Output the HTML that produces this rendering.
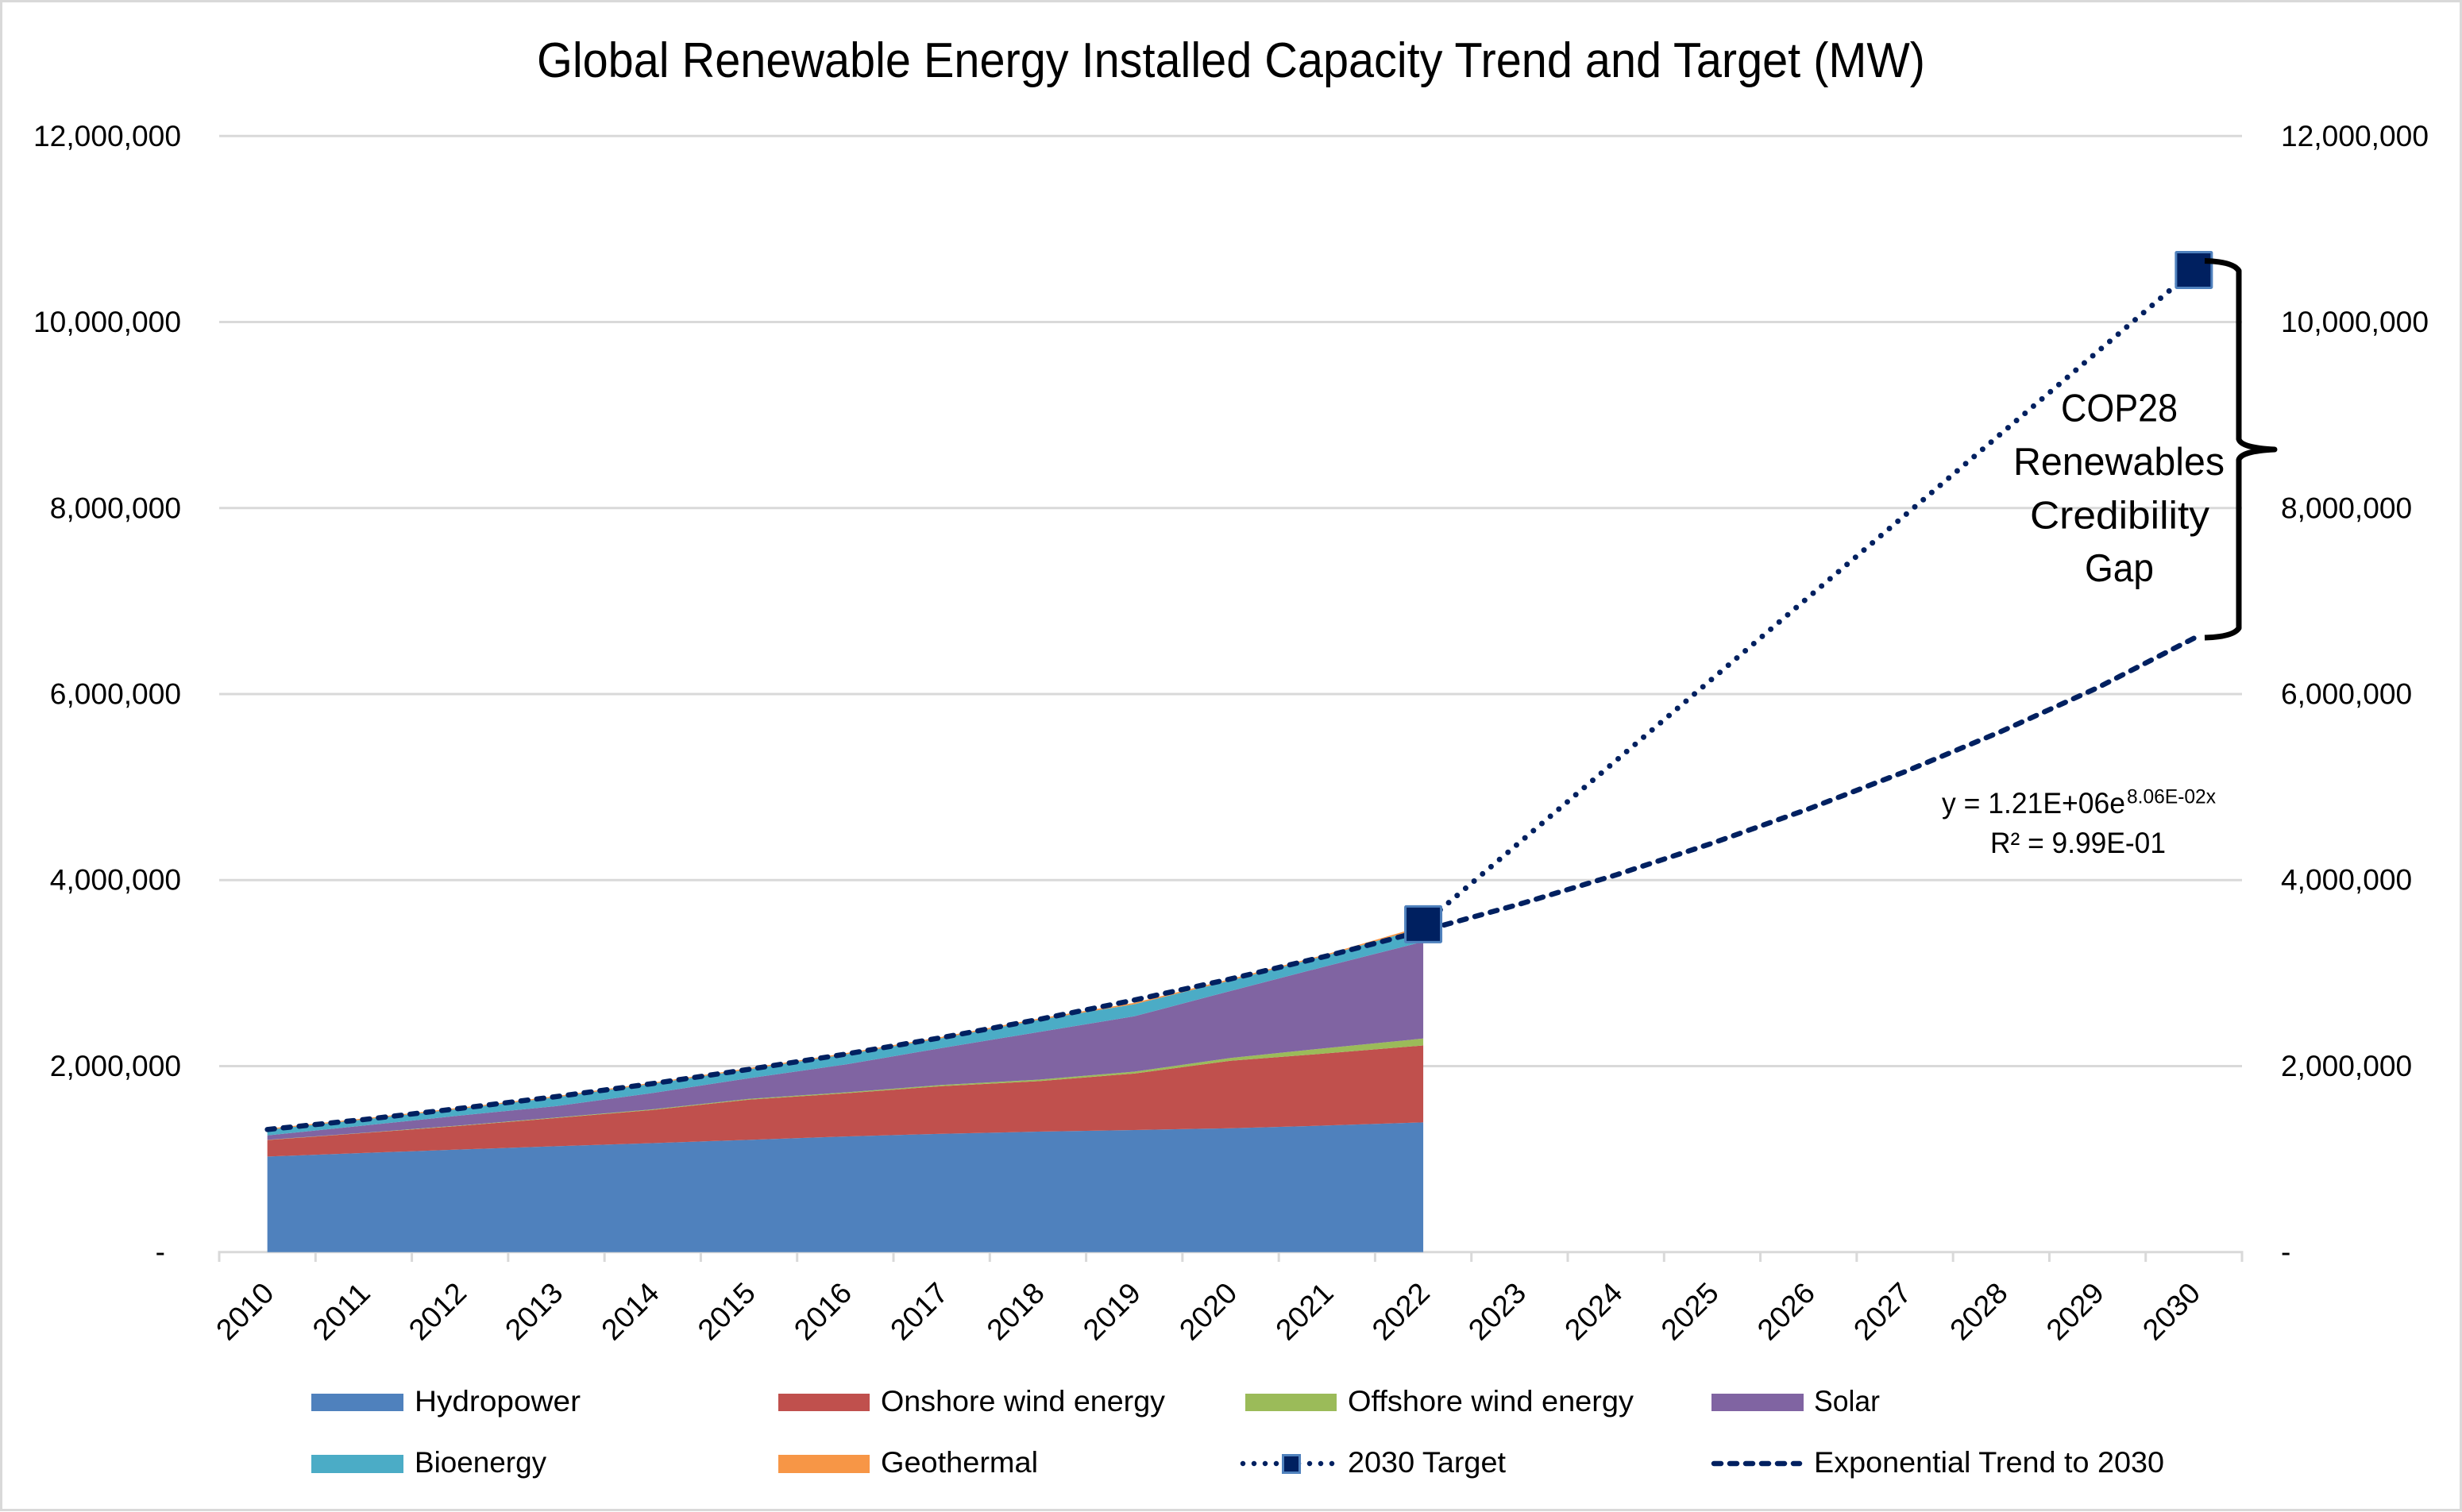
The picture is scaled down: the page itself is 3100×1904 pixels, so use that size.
<!DOCTYPE html>
<html lang="en">
<head>
<meta charset="utf-8">
<title>Global Renewable Energy Installed Capacity Trend and Target (MW)</title>
<style>
  html, body { margin: 0; padding: 0; background: #ffffff; }
  svg { display: block; }
  text { font-family: "Liberation Sans", sans-serif; fill: #000000; }
</style>
</head>
<body>
<svg id="chart" xmlns="http://www.w3.org/2000/svg" width="3100" height="1904" viewBox="0 0 3100 1904">
  <rect x="1.5" y="1.5" width="3097" height="1900" fill="#ffffff" stroke="#d9d9d9" stroke-width="3"/>
  <text x="676" y="97" font-size="62" textLength="1748" lengthAdjust="spacingAndGlyphs">Global Renewable Energy Installed Capacity Trend and Target (MW)</text>

  <g id="grid"></g>
  <g id="axis-x"></g>
  <g id="labels-left"></g>
  <g id="labels-right"></g>
  <g id="areas"></g>
  <g id="lines"></g>
  <g id="markers"></g>

  <path d="M2776 328.5 Q2812 329.5 2819 341 L2819 553 Q2822 564 2864 566 Q2822 568 2819 579 L2819 791 Q2812 802 2776 803" fill="none" stroke="#000000" stroke-width="7" stroke-linejoin="round"/>

  <g font-size="49">
    <text x="2595" y="530.5" textLength="147" lengthAdjust="spacingAndGlyphs">COP28</text>
    <text x="2535" y="598" textLength="266" lengthAdjust="spacingAndGlyphs">Renewables</text>
    <text x="2556" y="665.5" textLength="226" lengthAdjust="spacingAndGlyphs">Credibility</text>
    <text x="2625" y="732" textLength="87" lengthAdjust="spacingAndGlyphs">Gap</text>
  </g>

  <g>
    <text x="2445" y="1024" font-size="37" textLength="231" lengthAdjust="spacingAndGlyphs">y = 1.21E+06e</text>
    <text x="2678" y="1011.5" font-size="25" textLength="112" lengthAdjust="spacingAndGlyphs">8.06E-02x</text>
    <text x="2506" y="1074" font-size="37" textLength="221" lengthAdjust="spacingAndGlyphs">R² = 9.99E-01</text>
  </g>

  <g font-size="37">
    <g>
      <rect x="392" y="1755" width="116" height="22" fill="#4f81bd"/>
      <text x="522" y="1777" textLength="209" lengthAdjust="spacingAndGlyphs">Hydropower</text>
    </g>
    <g>
      <rect x="980" y="1755" width="115" height="22" fill="#c0504d"/>
      <text x="1109" y="1777" textLength="358" lengthAdjust="spacingAndGlyphs">Onshore wind energy</text>
    </g>
    <g>
      <rect x="1568" y="1755" width="115" height="22" fill="#9bbb59"/>
      <text x="1697" y="1777" textLength="360" lengthAdjust="spacingAndGlyphs">Offshore wind energy</text>
    </g>
    <g>
      <rect x="2155" y="1755" width="116" height="22" fill="#8064a2"/>
      <text x="2284" y="1777" textLength="83" lengthAdjust="spacingAndGlyphs">Solar</text>
    </g>
    <g>
      <rect x="392" y="1832" width="116" height="23" fill="#4bacc6"/>
      <text x="522" y="1854" textLength="166" lengthAdjust="spacingAndGlyphs">Bioenergy</text>
    </g>
    <g>
      <rect x="980" y="1832" width="115" height="23" fill="#f79646"/>
      <text x="1109" y="1854" textLength="198" lengthAdjust="spacingAndGlyphs">Geothermal</text>
    </g>
    <g>
      <line x1="1565" y1="1843" x2="1684" y2="1843" stroke="#002060" stroke-width="6.5" stroke-linecap="round" stroke-dasharray="0 14"/>
      <rect x="1615.5" y="1832.5" width="21" height="22" fill="#002060" stroke="#4f81bd" stroke-width="3"/>
      <text x="1697" y="1854" textLength="199" lengthAdjust="spacingAndGlyphs">2030 Target</text>
    </g>
    <g>
      <line x1="2158" y1="1843" x2="2266" y2="1843" stroke="#002060" stroke-width="6.5" stroke-linecap="round" stroke-dasharray="9 11"/>
      <text x="2284" y="1854" textLength="441" lengthAdjust="spacingAndGlyphs">Exponential Trend to 2030</text>
    </g>
  </g>
</svg>
<script>
const years = ["2010","2011","2012","2013","2014","2015","2016","2017","2018","2019","2020","2021","2022","2023","2024","2025","2026","2027","2028","2029","2030"];
const yTickValues = [0, 2000000, 4000000, 6000000, 8000000, 10000000, 12000000];
const yTickLabels = ["-", "2,000,000", "4,000,000", "6,000,000", "8,000,000", "10,000,000", "12,000,000"];

const hydropower = [1027000,1066000,1103000,1138000,1172000,1207000,1243000,1272000,1295000,1312000,1332000,1361000,1395000];
const onshoreWind = [178000,214000,254000,304000,356000,432000,464000,512000,543000,608000,725000,776000,827000];
const offshoreWind = [2000,3000,4000,5000,7000,8000,10000,13000,15000,20000,30000,57000,74000];
const solar = [48000,77000,107000,123000,175000,223000,300000,397000,512000,595000,721000,882000,1042000];
const bioenergy = [60000,65000,72000,95000,100000,95000,108000,106000,130000,130000,112000,114000,152000];
const geothermal = [12000,12000,12000,12000,12000,13000,13000,14000,15000,15000,16000,14000,18000];

const targetYearIndexes = [12, 20];
const targetValues = [3525000, 10560000];
const trendValues = [1318000,1425000,1545000,1672000,1812000,1965000,2128000,2306000,2500000,2710000,2937000,3184000,3455000,3741000,4055000,4396000,4765000,5165000,5598000,6068000,6600000];

const SVGNS = "http://www.w3.org/2000/svg";
const plotLeft = 276, plotRight = 2823, yZero = 1576.7, yTop = 171.3, yMax = 12000000;
const step = (plotRight - plotLeft) / years.length;
function xOf(i) { return plotLeft + step * (i + 0.5); }
function yOf(v) { return yZero - (v / yMax) * (yZero - yTop); }
function make(tag, parentId) {
  const el = document.createElementNS(SVGNS, tag);
  document.getElementById(parentId).appendChild(el);
  return el;
}
function put(el, k, v) { el.setAttribute(k, v); }

// gridlines
yTickValues.forEach(function (v, i) {
  if (v === 0) return;
  const g = make("line", "grid");
  
  
  put(g, "x1", plotLeft); put(g, "x2", plotRight);
  put(g, "y1", yOf(v)); put(g, "y2", yOf(v));
  put(g, "stroke", "#d9d9d9"); put(g, "stroke-width", 3);
});

// x axis line, ticks, labels
const axisLine = make("line", "axis-x");


put(axisLine, "x1", plotLeft - 1.5); put(axisLine, "x2", plotRight + 1.5);
put(axisLine, "y1", yZero); put(axisLine, "y2", yZero);
put(axisLine, "stroke", "#d9d9d9"); put(axisLine, "stroke-width", 3);

for (let i = 0; i <= years.length; i++) {
  const t = make("line", "axis-x");
  
  
  const tx = plotLeft + step * i;
  put(t, "x1", tx); put(t, "x2", tx);
  put(t, "y1", yZero); put(t, "y2", 1589);
  put(t, "stroke", "#d9d9d9"); put(t, "stroke-width", 3);
}
years.forEach(function (label, i) {
  const t = make("text", "axis-x");
  
  
  put(t, "transform", "translate(" + (xOf(i) - 28.6) + ",1651) rotate(-45)");
  put(t, "y", 13);
  put(t, "text-anchor", "middle");
  put(t, "font-size", 37);
  put(t, "textLength", 84);
  put(t, "lengthAdjust", "spacingAndGlyphs");
  t.textContent = label;
});

// y tick labels, both sides
function labelWidth(s) {
  const digits = s.replace(/[^0-9]/g, "").length;
  const commas = s.replace(/[^,]/g, "").length;
  return digits * 20.8 + commas * 9.8;
}
yTickLabels.forEach(function (label, i) {
  const y = yOf(yTickValues[i]) + 12.5;
  const l = make("text", "labels-left");
  
  
  put(l, "y", y);
  put(l, "font-size", 37);
  put(l, "text-anchor", "end");
  const r = make("text", "labels-right");
  
  
  put(r, "x", 2872);
  put(r, "y", y);
  put(r, "font-size", 37);
  if (label === "-") {
    put(l, "x", 208);
  } else {
    put(l, "x", 228);
    put(l, "textLength", labelWidth(label));
    put(l, "lengthAdjust", "spacingAndGlyphs");
    put(r, "textLength", labelWidth(label));
    put(r, "lengthAdjust", "spacingAndGlyphs");
  }
  l.textContent = label;
  r.textContent = label;
});

// stacked areas
const stackSeries = [hydropower, onshoreWind, offshoreWind, solar, bioenergy, geothermal];
const stackColors = ["#4f81bd", "#c0504d", "#9bbb59", "#8064a2", "#4bacc6", "#f79646"];
const running = hydropower.map(function () { return 0; });
stackSeries.forEach(function (series, s) {
  const lower = running.slice();
  series.forEach(function (v, i) { running[i] += v; });
  const pts = [];
  running.forEach(function (v, i) { pts.push(xOf(i) + "," + yOf(v)); });
  for (let i = lower.length - 1; i >= 0; i--) { pts.push(xOf(i) + "," + yOf(lower[i])); }
  const a = make("polygon", "areas");
  
  
  put(a, "points", pts.join(" "));
  put(a, "fill", stackColors[s]);
});

// 2030 target dotted line
const targetPts = targetValues.map(function (v, i) { return xOf(targetYearIndexes[i]) + "," + yOf(v); });
const targetLine = make("polyline", "lines");


put(targetLine, "points", targetPts.join(" "));
put(targetLine, "fill", "none");
put(targetLine, "stroke", "#002060");
put(targetLine, "stroke-width", 7);
put(targetLine, "stroke-linecap", "round");
put(targetLine, "stroke-dasharray", "0 14");

// exponential trend dashed line: dash period tuned so the last dash lands on the 2030 end
const trendPts = trendValues.map(function (v, i) { return xOf(i) + "," + yOf(v); });
const trendLine = make("polyline", "lines");


put(trendLine, "points", trendPts.join(" "));
put(trendLine, "fill", "none");
put(trendLine, "stroke", "#002060");
put(trendLine, "stroke-width", 6.5);
put(trendLine, "stroke-linecap", "round");
const trendLength = trendLine.getTotalLength();
const trendPeriod = (trendLength - 9) / Math.round((trendLength - 9) / 20);
put(trendLine, "stroke-dasharray", "9 " + (trendPeriod - 9));

// target markers
targetValues.forEach(function (v, i) {
  const m = make("rect", "markers");
  
  
  put(m, "x", xOf(targetYearIndexes[i]) - 22.5);
  put(m, "y", yOf(v) - 22.5);
  put(m, "width", 45);
  put(m, "height", 45);
  put(m, "rx", 1);
  put(m, "fill", "#002060");
  put(m, "stroke", "#4f81bd");
  put(m, "stroke-width", 3);
});
</script>
</body>
</html>
